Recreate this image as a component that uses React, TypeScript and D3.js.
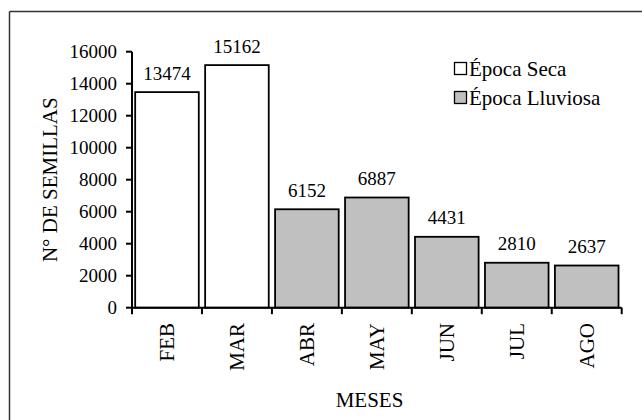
import React from "react";
import * as d3 from "d3";

const categories = ["FEB", "MAR", "ABR", "MAY", "JUN", "JUL", "AGO"];
const values = [13474, 15162, 6152, 6887, 4431, 2810, 2637];
const seasons = ["seca", "seca", "lluviosa", "lluviosa", "lluviosa", "lluviosa", "lluviosa"];
const yTicks = [0, 2000, 4000, 6000, 8000, 10000, 12000, 14000, 16000];
const legendItems = [
  { key: "seca", label: "Época Seca" },
  { key: "lluviosa", label: "Época Lluviosa" },
];

const W = 642;
const H = 420;
const FONT = "Liberation Serif, Times New Roman, Tinos, serif";

export default function App() {
  const left = 132;
  const right = 621.7;
  const top = 51.7;
  const bottom = 307.7;

  const x = d3.scaleBand<string>().domain(categories).range([left, right]).paddingInner(0.0909).paddingOuter(0.04545);
  const y = d3.scaleLinear().domain([0, 16000]).range([bottom, top]);
  const color = d3.scaleOrdinal<string, string>().domain(["seca", "lluviosa"]).range(["#ffffff", "#c0c0c0"]);
  const step = x.step();
  const bounds = d3.range(categories.length + 1).map((i) => left + i * step);

  return (
    <svg width={W} height={H} style={{ position: "absolute", left: 0, top: 0, background: "#fff", fontFamily: FONT }}>
      <rect x={0} y={0} width={W} height={H} fill="#fff" />
      <line x1={9.5} y1={11.5} x2={W + 10} y2={11.5} stroke="#333" strokeWidth={1.5} />
      <line x1={9.5} y1={11.5} x2={9.5} y2={H + 10} stroke="#333" strokeWidth={1.5} />

      {categories.map((c, i) => (
        <rect
          key={c}
          x={x(c)}
          y={y(values[i])}
          width={x.bandwidth()}
          height={bottom - y(values[i])}
          fill={color(seasons[i])}
          stroke="#000"
          strokeWidth={1.8}
        />
      ))}

      {categories.map((c, i) => (
        <text key={"v" + c} x={(x(c) as number) + x.bandwidth() / 2} y={y(values[i]) - 12.5} textAnchor="middle" fontSize={19} fill="#000">
          {values[i]}
        </text>
      ))}

      <line x1={left} y1={top} x2={left} y2={bottom} stroke="#000" strokeWidth={2} />
      {yTicks.map((t) => (
        <g key={t}>
          <line x1={left - 6} x2={left} y1={y(t)} y2={y(t)} stroke="#000" strokeWidth={2} />
          <text x={117} y={y(t)} dy="0.34em" textAnchor="end" fontSize={19} fill="#000">
            {t}
          </text>
        </g>
      ))}

      <line x1={left} y1={bottom} x2={right} y2={bottom} stroke="#000" strokeWidth={2} />
      {bounds.map((b, i) => (
        <line key={i} x1={b} x2={b} y1={bottom} y2={bottom + 6.5} stroke="#000" strokeWidth={2} />
      ))}
      {categories.map((c) => {
        const cx = (x(c) as number) + x.bandwidth() / 2;
        return (
          <text key={"l" + c} transform={`translate(${cx + 7.3},323) rotate(-90)`} textAnchor="end" fontSize={21} fill="#000">
            {c}
          </text>
        );
      })}

      <text x={369.5} y={406.5} textAnchor="middle" fontSize={21} fill="#000">
        MESES
      </text>
      <text transform={`translate(56.5,${(top + bottom) / 2}) rotate(-90)`} textAnchor="middle" fontSize={21} fill="#000">
        N° DE SEMILLAS
      </text>

      {legendItems.map((it, i) => (
        <g key={it.key}>
          <rect x={454.5} y={62.5 + i * 29} width={12} height={12} fill={color(it.key)} stroke="#000" strokeWidth={1.3} />
          <text x={469} y={76 + i * 29} fontSize={21} fill="#000">
            {it.label}
          </text>
        </g>
      ))}
    </svg>
  );
}
